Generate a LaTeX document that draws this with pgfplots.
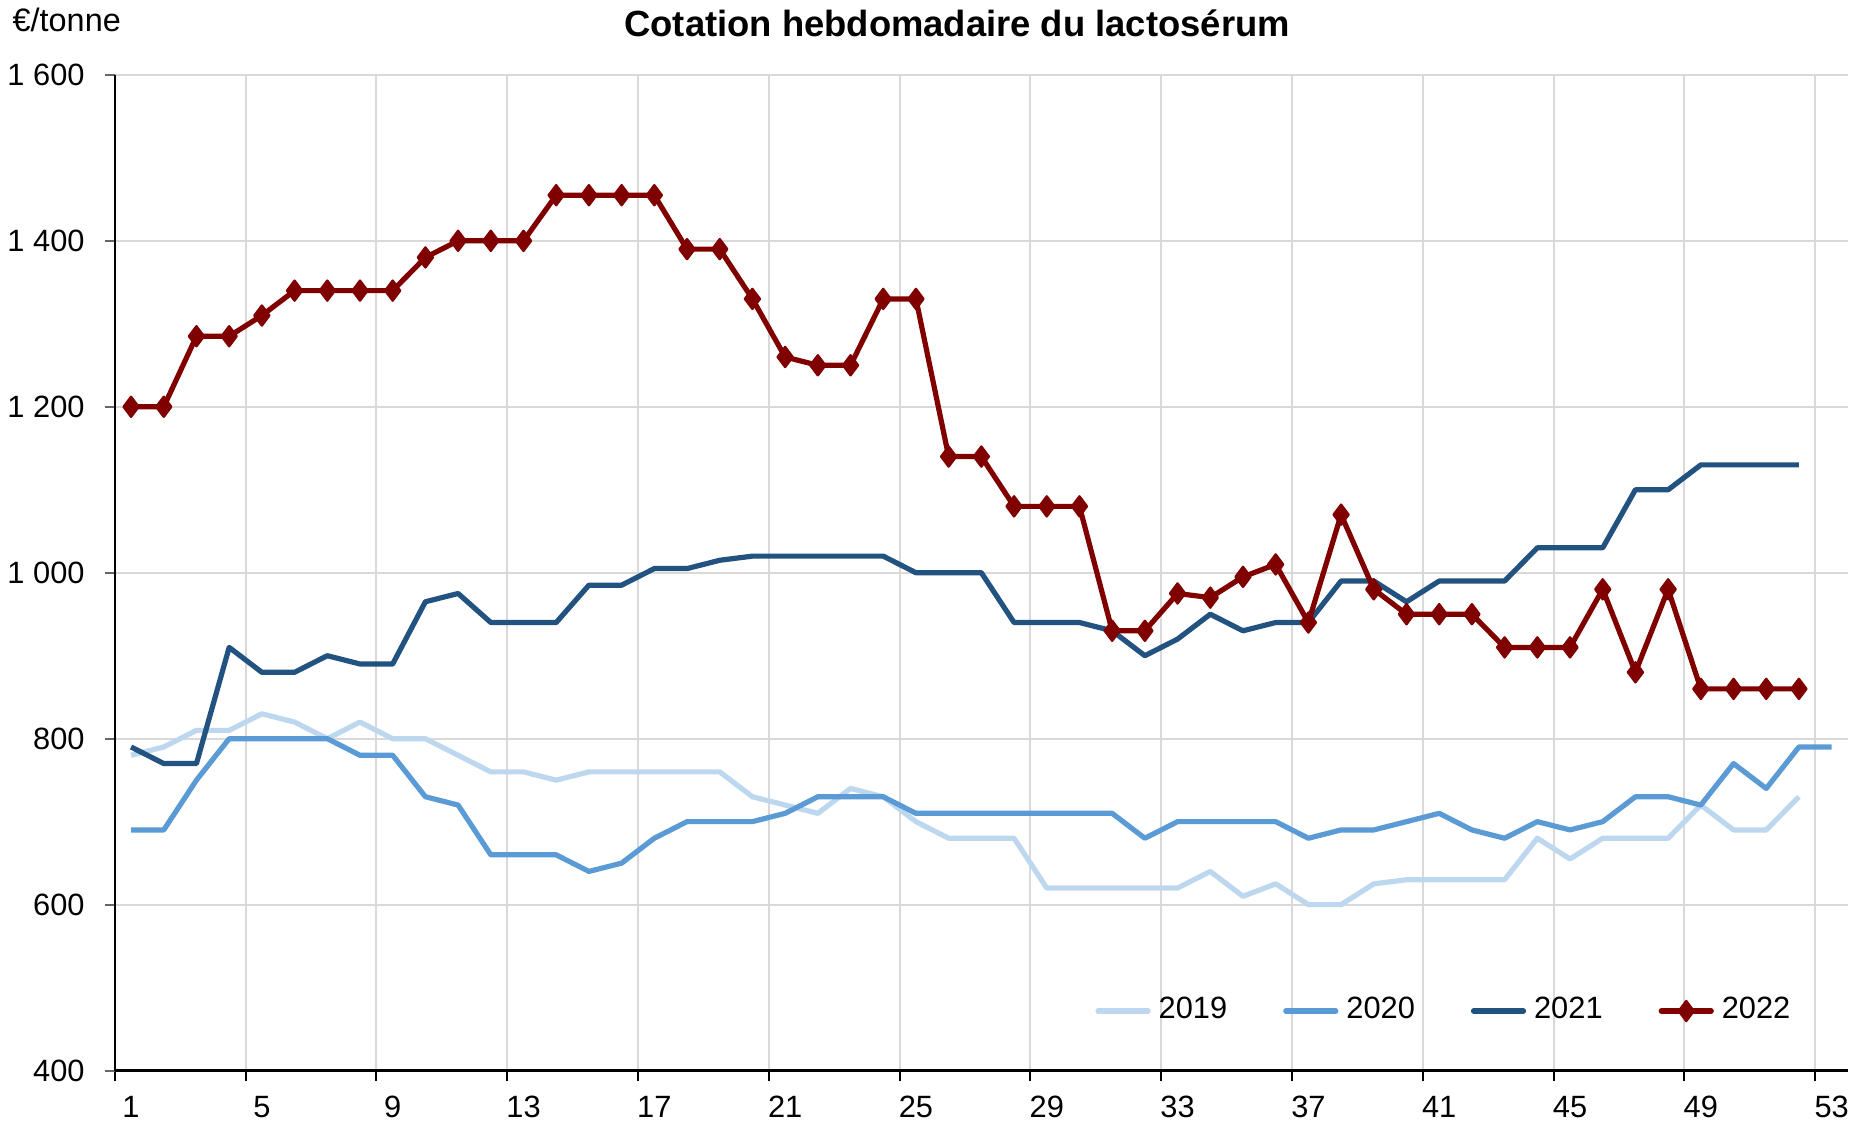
\documentclass[border=0pt]{standalone}
\usepackage{pgfplots}
\pgfplotsset{compat=1.18}
\usepackage{fontspec}
\setmainfont{Liberation Sans}
\definecolor{c2019}{RGB}{189,215,238}
\definecolor{c2020}{RGB}{91,155,213}
\definecolor{c2021}{RGB}{34,82,128}
\definecolor{c2022}{RGB}{128,0,0}
\definecolor{gridc}{RGB}{217,217,217}
\begin{document}
\begin{tikzpicture}
\path[use as bounding box] (-28.675pt,-13.125pt) rectangle (437.55pt,267.625pt);
\begin{axis}[
  scale only axis,
  width=433.3pt, height=248.9pt,
  xmin=0.5, xmax=53.5, ymin=400, ymax=1600,
  axis lines*=left,
  axis line style={black, line width=0.6pt},
  xtick={1,5,...,53},
  xticklabels={1,5,9,13,17,21,25,29,33,37,41,45,49,53},
  minor xtick={0.5,4.5,...,52.5},
  major x tick style={draw=none},
  minor x tick style={black, line width=0.5pt},
  xminorgrids=true, xmajorgrids=false,
  ytick={400,600,...,1600},
  yticklabels={400,600,800,1 000,1 200,1 400,1 600},
  ymajorgrids=true,
  major y tick style={black!60, line width=0.5pt},
  tick align=outside,
  major tick length=2.5pt,
  minor tick length=2.5pt,
  grid style={gridc, line width=0.5pt},
  tick label style={font=\fontsize{7.7}{9}\selectfont},
  xticklabel style={yshift=-0.3pt},
  yticklabel style={xshift=-1.5pt},
  clip=false,
  legend columns=4,
  legend style={draw=none, fill=none, at={(rel axis cs:0.7686,0.0598)}, anchor=center,
    font=\fontsize{7.7}{9}\selectfont, inner sep=0pt,
    /tikz/every even column/.append style={column sep=12pt}},
  legend image code/.code={
    \draw[#1, line cap=round] (0pt,0pt) -- (12.5pt,0pt);
    \draw[#1, only marks] plot coordinates {(6.25pt,0pt)};
  },
  every axis plot/.append style={line width=1.3pt, line join=round},
]
\addplot[c2019, no markers] coordinates {
(1,780)(2,790)(3,810)(4,810)(5,830)(6,820)(7,800)(8,820)(9,800)(10,800)
(11,780)(12,760)(13,760)(14,750)(15,760)(16,760)(17,760)(18,760)(19,760)(20,730)
(21,720)(22,710)(23,740)(24,730)(25,700)(26,680)(27,680)(28,680)(29,620)(30,620)
(31,620)(32,620)(33,620)(34,640)(35,610)(36,625)(37,600)(38,600)(39,625)(40,630)
(41,630)(42,630)(43,630)(44,680)(45,655)(46,680)(47,680)(48,680)(49,720)(50,690)
(51,690)(52,730)};
\addlegendentry{2019}
\addplot[c2020, no markers] coordinates {
(1,690)(2,690)(3,750)(4,800)(5,800)(6,800)(7,800)(8,780)(9,780)(10,730)
(11,720)(12,660)(13,660)(14,660)(15,640)(16,650)(17,680)(18,700)(19,700)(20,700)
(21,710)(22,730)(23,730)(24,730)(25,710)(26,710)(27,710)(28,710)(29,710)(30,710)
(31,710)(32,680)(33,700)(34,700)(35,700)(36,700)(37,680)(38,690)(39,690)(40,700)
(41,710)(42,690)(43,680)(44,700)(45,690)(46,700)(47,730)(48,730)(49,720)(50,770)
(51,740)(52,790)(53,790)};
\addlegendentry{2020}
\addplot[c2021, no markers] coordinates {
(1,790)(2,770)(3,770)(4,910)(5,880)(6,880)(7,900)(8,890)(9,890)(10,965)
(11,975)(12,940)(13,940)(14,940)(15,985)(16,985)(17,1005)(18,1005)(19,1015)(20,1020)
(21,1020)(22,1020)(23,1020)(24,1020)(25,1000)(26,1000)(27,1000)(28,940)(29,940)(30,940)
(31,930)(32,900)(33,920)(34,950)(35,930)(36,940)(37,940)(38,990)(39,990)(40,965)
(41,990)(42,990)(43,990)(44,1030)(45,1030)(46,1030)(47,1100)(48,1100)(49,1130)(50,1130)
(51,1130)(52,1130)};
\addlegendentry{2021}
\addplot[c2022, mark=diamond*, mark size=2.5pt, mark options={fill=c2022, solid, line width=0.6pt}] coordinates {
(1,1200)(2,1200)(3,1285)(4,1285)(5,1310)(6,1340)(7,1340)(8,1340)(9,1340)(10,1380)
(11,1400)(12,1400)(13,1400)(14,1455)(15,1455)(16,1455)(17,1455)(18,1390)(19,1390)(20,1330)
(21,1260)(22,1250)(23,1250)(24,1330)(25,1330)(26,1140)(27,1140)(28,1080)(29,1080)(30,1080)
(31,930)(32,930)(33,975)(34,970)(35,995)(36,1010)(37,940)(38,1070)(39,980)(40,950)
(41,950)(42,950)(43,910)(44,910)(45,910)(46,980)(47,880)(48,980)(49,860)(50,860)
(51,860)(52,860)};
\addlegendentry{2022}
\node[font=\bfseries\fontsize{9.1}{11}\selectfont, anchor=center] at (rel axis cs:0.486,1) [yshift=12.9pt] {Cotation hebdomadaire du lactosérum};
\node[font=\fontsize{8.1}{9}\selectfont, anchor=west, inner sep=0pt] at (rel axis cs:0,1) [xshift=-25.7pt, yshift=13.8pt] {€/tonne};
\end{axis}
\end{tikzpicture}
\end{document}
